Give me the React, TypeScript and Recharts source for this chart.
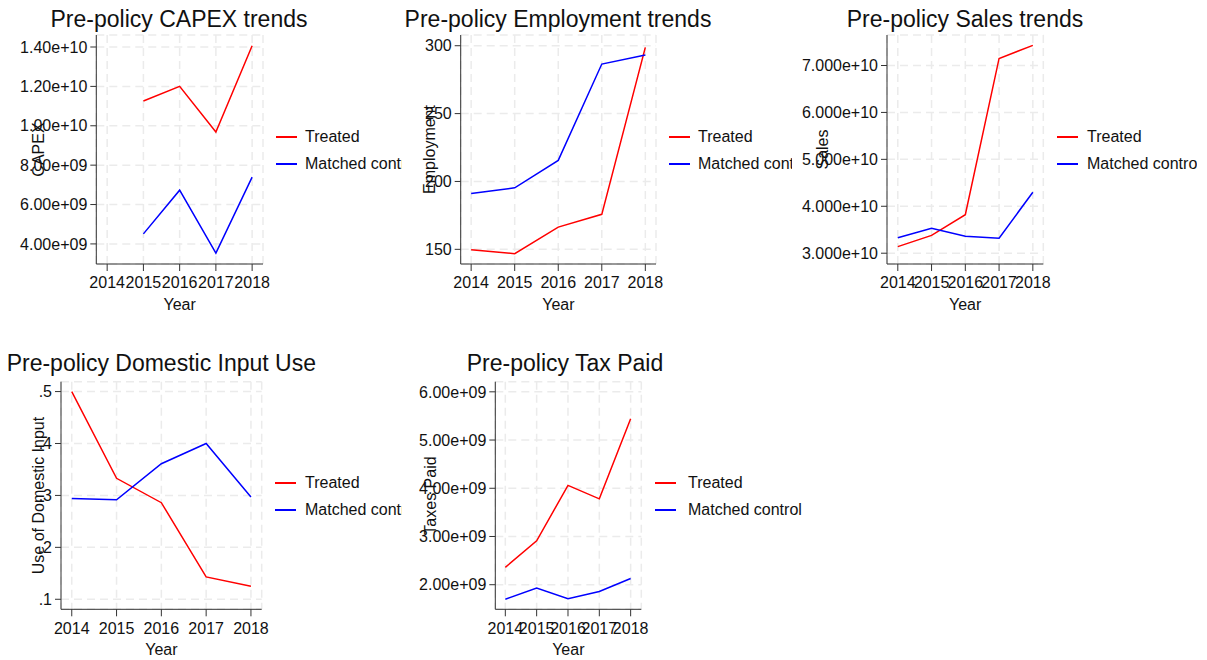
import { LineChart, Line, XAxis, YAxis, CartesianGrid } from "recharts";

const FONT = '"Liberation Sans", Arial, Helvetica, sans-serif';

const years = [2014, 2015, 2016, 2017, 2018];

// values
const capexTreated = [null, 1.126e10, 1.2e10, 9.68e9, 1.406e10];
const capexControl = [null, 4.51e9, 6.73e9, 3.53e9, 7.39e9];
const capexTicks = [4e9, 6e9, 8e9, 1e10, 1.2e10, 1.4e10];

const empTreated = [149.7, 146.8, 166.4, 175.8, 298.8];
const empControl = [191.2, 195.3, 215.5, 286.5, 293.2];
const empTicks = [150, 200, 250, 300];

const salesTreated = [3.14e10, 3.38e10, 3.82e10, 7.15e10, 7.43e10];
const salesControl = [3.33e10, 3.53e10, 3.36e10, 3.32e10, 4.3e10];
const salesTicks = [3e10, 4e10, 5e10, 6e10, 7e10];

const domTreated = [0.5, 0.333, 0.286, 0.143, 0.125];
const domControl = [0.294, 0.2915, 0.361, 0.4, 0.297];
const domTicks = [0.1, 0.2, 0.3, 0.4, 0.5];

const taxTreated = [2.36e9, 2.91e9, 4.06e9, 3.78e9, 5.44e9];
const taxControl = [1.7e9, 1.93e9, 1.71e9, 1.86e9, 2.13e9];
const taxTicks = [2e9, 3e9, 4e9, 5e9, 6e9];

const seriesNames = ["Treated", "Matched control"];

const sci = (digits: number) => (v: number) => {
  const exp = Math.floor(Math.log10(Math.abs(v)) + 1e-9);
  const m = v / Math.pow(10, exp);
  return m.toFixed(digits) + "e+" + String(exp).padStart(2, "0");
};
const dec = (v: number) => v.toFixed(1).replace(/^0/, "");

const panels = [
  {
    key: "capex",
    title: "Pre-policy CAPEX trends",
    yTitle: "CAPEX",
    treated: capexTreated,
    control: capexControl,
    yTicks: capexTicks,
    fmt: sci(2),
    xDomain: [2013.7, 2018.3],
    yDomain: [2.98e9, 1.461e10],
    box: { left: 0, top: 0, width: 402 },
    plot: { left: 96.3, right: 263, top: 35, bottom: 264 },
    yTitleX: 38,
    titleCenter: 179,
    legend: { sample: 276, text: 305, clip: 402 },
  },
  {
    key: "emp",
    title: "Pre-policy Employment trends",
    yTitle: "Employment",
    treated: empTreated,
    control: empControl,
    yTicks: empTicks,
    fmt: (v: number) => String(v),
    xDomain: [2013.76, 2018.245],
    yDomain: [139.2, 307.9],
    box: { left: 402, top: 0, width: 390 },
    plot: { left: 460.7, right: 656, top: 35, bottom: 264 },
    yTitleX: 429,
    titleCenter: 558,
    legend: { sample: 669, text: 698, clip: 792 },
  },
  {
    key: "sales",
    title: "Pre-policy Sales trends",
    yTitle: "Sales",
    treated: salesTreated,
    control: salesControl,
    yTicks: salesTicks,
    fmt: sci(3),
    xDomain: [2013.68, 2018.31],
    yDomain: [2.77e10, 7.65e10],
    box: { left: 792, top: 0, width: 405 },
    plot: { left: 887, right: 1043.3, top: 35, bottom: 264 },
    yTitleX: 822,
    titleCenter: 965,
    legend: { sample: 1057, text: 1087, clip: 1197 },
  },
  {
    key: "dom",
    title: "Pre-policy Domestic Input Use",
    yTitle: "Use of Domestic Input",
    treated: domTreated,
    control: domControl,
    yTicks: domTicks,
    fmt: dec,
    xDomain: [2013.76, 2018.24],
    yDomain: [0.0807, 0.519],
    box: { left: 0, top: 330, width: 402 },
    plot: { left: 61, right: 261.7, top: 381.7, bottom: 609.3 },
    yTitleX: 38,
    titleCenter: 161.3,
    legend: { sample: 275, text: 305, clip: 402 },
  },
  {
    key: "tax",
    title: "Pre-policy Tax Paid",
    yTitle: "Taxes Paid",
    treated: taxTreated,
    control: taxControl,
    yTicks: taxTicks,
    fmt: sci(2),
    xDomain: [2013.68, 2018.34],
    yDomain: [1.49e9, 6.21e9],
    box: { left: 402, top: 330, width: 410 },
    plot: { left: 495.3, right: 641.3, top: 381.7, bottom: 609.3 },
    yTitleX: 430,
    titleCenter: 565,
    legend: { sample: 655, text: 688, clip: 900 },
  },
];

const colors = ["#ff0000", "#0000ff"];

function YTitle({ px, py, text }: any) {
  return (
    <text
      x={px}
      y={py}
      transform={`rotate(-90 ${px} ${py})`}
      textAnchor="middle"
      dominantBaseline="central"
      fontSize={16}
      fill="#111"
    >
      {text}
    </text>
  );
}

function XTitle({ px, py }: any) {
  return (
    <text x={px} y={py} textAnchor="middle" fontSize={16} fill="#111">
      Year
    </text>
  );
}

function Panel({ p }: any) {
  const h = 330;
  const w = p.box.width;
  const top = p.plot.top - p.box.top;
  const yW = p.plot.left - p.box.left;
  const right = p.box.left + w - p.plot.right;
  const xH = p.box.top + h - p.plot.bottom;
  const midY = (p.plot.top + p.plot.bottom) / 2 - p.box.top;
  const midX = (p.plot.left + p.plot.right) / 2 - p.box.left;

  const data = years.map((year, i) => ({
    year,
    treated: p.treated[i],
    control: p.control[i],
  }));

  return (
    <div style={{ position: "absolute", left: p.box.left, top: p.box.top, width: w, height: h }}>
      <div
        style={{
          position: "absolute",
          left: p.titleCenter - p.box.left - 220,
          width: 440,
          top: p.box.top === 0 ? 7.5 : 22.2,
          textAlign: "center",
          fontSize: 23,
          lineHeight: "23px",
          color: "#111",
          whiteSpace: "nowrap",
        }}
      >
        {p.title}
      </div>
      <LineChart
        width={w}
        height={h}
        data={data}
        margin={{ top, right, bottom: 0, left: 0 }}
        style={{ position: "absolute", left: 0, top: 0 }}
      >
        <CartesianGrid stroke="#ebebeb" strokeWidth={1.5} strokeDasharray="8 5" />
        <XAxis
          dataKey="year"
          type="number"
          domain={p.xDomain}
          ticks={years}
          interval={0}
          allowDataOverflow
          height={xH}
          tickSize={7}
          tickMargin={6}
          axisLine={{ stroke: "#333" }}
          tickLine={{ stroke: "#333" }}
          tick={{ fontSize: 16, fill: "#111" }}
          label={<XTitle px={midX} py={p.plot.bottom + 46 - p.box.top} />}
        />
        <YAxis
          type="number"
          domain={p.yDomain}
          ticks={p.yTicks}
          interval={0}
          allowDataOverflow
          width={yW}
          tickFormatter={p.fmt}
          tickSize={6}
          tickMargin={3}
          axisLine={{ stroke: "#333" }}
          tickLine={{ stroke: "#333" }}
          tick={{ fontSize: 16, fill: "#111" }}
          label={<YTitle px={p.yTitleX - p.box.left} py={midY} text={p.yTitle} />}
        />
        <Line
          type="linear"
          dataKey="treated"
          stroke={colors[0]}
          strokeWidth={1.5}
          dot={false}
          isAnimationActive={false}
        />
        <Line
          type="linear"
          dataKey="control"
          stroke={colors[1]}
          strokeWidth={1.5}
          dot={false}
          isAnimationActive={false}
        />
      </LineChart>
      <div
        style={{
          position: "absolute",
          left: p.legend.sample - p.box.left,
          top: midY - 30,
          width: p.legend.clip - p.legend.sample,
          height: 60,
          overflow: "hidden",
        }}
      >
        {seriesNames.map((name, i) => {
          const cy = 30 + (i === 0 ? -12.5 : 14);
          return (
            <div key={name}>
              <div
                style={{
                  position: "absolute",
                  left: 0,
                  top: cy - 1,
                  width: 21,
                  height: 2,
                  background: colors[i],
                }}
              />
              <div
                style={{
                  position: "absolute",
                  left: p.legend.text - p.legend.sample,
                  top: cy - 10,
                  lineHeight: "20px",
                  fontSize: 16,
                  color: "#111",
                  whiteSpace: "nowrap",
                }}
              >
                {name}
              </div>
            </div>
          );
        })}
      </div>
    </div>
  );
}

export default function App() {
  return (
    <div
      style={{
        position: "relative",
        width: 1207,
        height: 660,
        background: "#fff",
        fontFamily: FONT,
        overflow: "hidden",
      }}
    >
      <style>{`body{margin:0}`}</style>
      {panels.map((p) => (
        <Panel key={p.key} p={p} />
      ))}
    </div>
  );
}
